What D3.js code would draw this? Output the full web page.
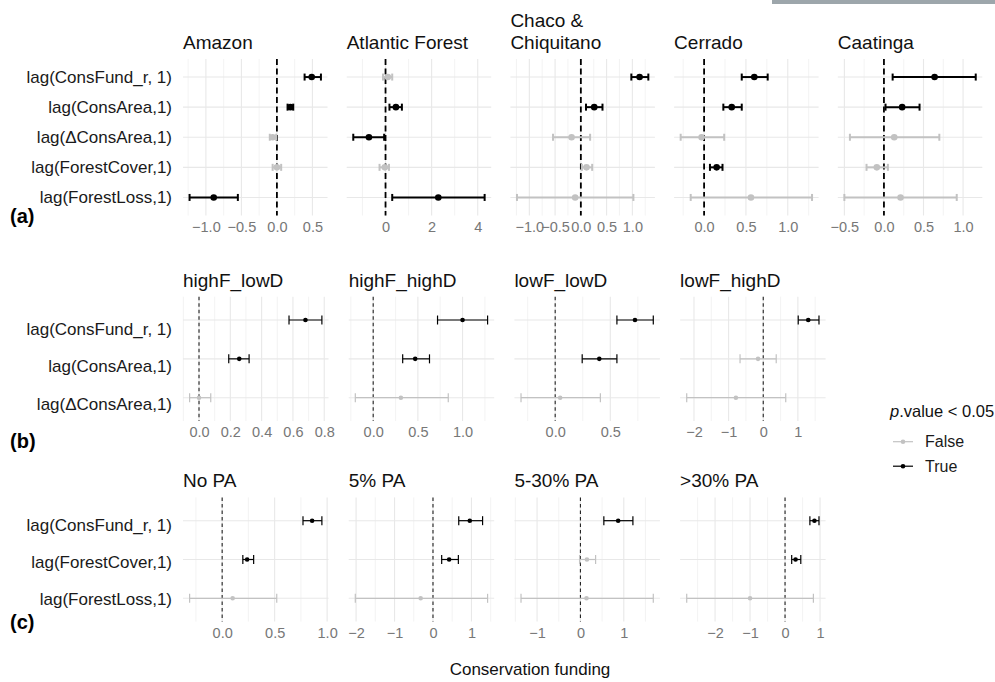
<!DOCTYPE html>
<html lang="en">
<meta charset="utf-8">
<script src="https://d3js.org/d3.v7.min.js"></script>
<style>
  body { margin: 0; background: #fff; }
  text { font-family: "Liberation Sans", Arial, Helvetica, sans-serif; }
</style>
<body>
<script>
// ---------- (a) biomes ----------
var biomes = ["Amazon", "Atlantic Forest", "Chaco &\nChiquitano", "Cerrado", "Caatinga"];
var termsA = ["lag(ConsFund_r, 1)", "lag(ConsArea,1)", "lag(ΔConsArea,1)", "lag(ForestCover,1)", "lag(ForestLoss,1)"];
var estA = [
  [0.49, 0.19, -0.06, 0.00, -0.89],
  [0.10, 0.45, -0.72, -0.03, 2.29],
  [1.14, 0.26, -0.18, 0.11, -0.11],
  [0.60, 0.33, -0.03, 0.15, 0.56],
  [0.64, 0.23, 0.13, -0.09, 0.21]
];
var loA = [
  [0.39, 0.15, -0.10, -0.06, -1.23],
  [-0.11, 0.17, -1.40, -0.26, 0.29],
  [0.98, 0.10, -0.54, 0.02, -1.24],
  [0.45, 0.23, -0.28, 0.07, -0.16],
  [0.11, 0.02, -0.43, -0.22, -0.50]
];
var hiA = [
  [0.62, 0.23, -0.01, 0.06, -0.55],
  [0.29, 0.71, -0.06, 0.15, 4.30],
  [1.31, 0.42, 0.18, 0.22, 1.02],
  [0.76, 0.45, 0.24, 0.22, 1.29],
  [1.16, 0.45, 0.70, 0.05, 0.92]
];
var sigA = [
  [1, 1, 0, 0, 1],
  [0, 1, 1, 0, 1],
  [1, 1, 0, 0, 0],
  [1, 1, 0, 1, 0],
  [1, 1, 0, 0, 0]
];
var ticksA = [[-1, -0.5, 0, 0.5], [0, 2, 4], [-1, -0.5, 0, 0.5, 1], [0, 0.5, 1], [-0.5, 0, 0.5, 1]];

// ---------- (b) forest / deforestation groups ----------
var forestGroups = ["highF_lowD", "highF_highD", "lowF_lowD", "lowF_highD"];
var termsB = ["lag(ConsFund_r, 1)", "lag(ConsArea,1)", "lag(ΔConsArea,1)"];
var estB = [[0.68, 0.257, 0.0], [1.0, 0.47, 0.31], [0.724, 0.40, 0.045], [1.30, -0.15, -0.79]];
var loB = [[0.575, 0.19, -0.06], [0.72, 0.33, -0.20], [0.56, 0.245, -0.31], [1.01, -0.67, -2.21]];
var hiB = [[0.785, 0.32, 0.075], [1.28, 0.63, 0.84], [0.89, 0.56, 0.41], [1.61, 0.375, 0.65]];
var sigB = [[1, 1, 0], [1, 1, 0], [1, 1, 0], [1, 0, 0]];
var ticksB = [[0, 0.2, 0.4, 0.6, 0.8], [0, 0.5, 1], [0, 0.5], [-2, -1, 0, 1]];

// ---------- (c) protected area share ----------
var paGroups = ["No PA", "5% PA", "5-30% PA", ">30% PA"];
var termsC = ["lag(ConsFund_r, 1)", "lag(ForestCover,1)", "lag(ForestLoss,1)"];
var estC = [[0.857, 0.238, 0.10], [0.957, 0.42, -0.32], [0.87, 0.15, 0.14], [0.84, 0.30, -1.0]];
var loC = [[0.77, 0.197, -0.31], [0.67, 0.226, -2.02], [0.54, -0.02, -1.37], [0.71, 0.19, -2.81]];
var hiC = [[0.95, 0.30, 0.52], [1.29, 0.66, 1.42], [1.21, 0.35, 1.68], [0.97, 0.45, 0.81]];
var sigC = [[1, 1, 0], [1, 1, 0], [1, 0, 0], [1, 1, 0]];
var ticksC = [[0, 0.5, 1], [-2, -1, 0, 1], [-1, 0, 1], [-2, -1, 0, 1]];

var legendLabels = ["False", "True"];

var W = 995, H = 682;
var svg = d3.select("body").append("svg").attr("width", W).attr("height", H);
svg.append("rect").attr("width", W).attr("height", H).attr("fill", "#fff");
// grey strip in the top right corner of the picture
svg.append("rect").attr("x", 772).attr("y", 0).attr("width", 223).attr("height", 4).attr("fill", "#9da6ab");

var colTrue = "#000", colFalse = "#c2c2c2";

function decimals(ticks) {
  return d3.max(ticks, function(t) { var s = String(t).split("."); return s[1] ? s[1].length : 0; });
}

function drawRow(o) {
  o.facets.forEach(function(name, f) {
    var left = o.left + f * o.step;
    var rows = o.terms.map(function(t, i) {
      return {term: t, est: o.est[f][i], lo: o.lo[f][i], hi: o.hi[f][i], sig: o.sig[f][i]};
    });
    var lo = d3.min(rows, function(d) { return d.lo; });
    var hi = d3.max(rows, function(d) { return d.hi; });
    var pad = (hi - lo) * 0.05;
    var x = d3.scaleLinear().domain([lo - pad, hi + pad]).range([left, left + o.width]);
    var y = d3.scalePoint().domain(o.terms).range([o.top, o.bottom]).padding(0.6);
    var dom = x.domain();
    var ticks = o.ticks[f];
    var stepT = ticks[1] - ticks[0];
    var minor = [ticks[0] - stepT / 2].concat(ticks.map(function(t) { return t + stepT / 2; }))
      .filter(function(v) { return v >= dom[0] && v <= dom[1]; });

    var g = svg.append("g");
    // grid
    g.selectAll(".minor").data(minor).enter().append("line")
      .attr("x1", x).attr("x2", x).attr("y1", o.top).attr("y2", o.bottom)
      .attr("stroke", "#f0f0f0").attr("stroke-width", 0.8);
    g.selectAll(".major").data(ticks).enter().append("line")
      .attr("x1", x).attr("x2", x).attr("y1", o.top).attr("y2", o.bottom)
      .attr("stroke", "#e8e8e8").attr("stroke-width", 1.1);
    g.selectAll(".hgrid").data(o.terms).enter().append("line")
      .attr("x1", left).attr("x2", left + o.width)
      .attr("y1", y).attr("y2", y)
      .attr("stroke", "#e8e8e8").attr("stroke-width", 1.1);

    // zero reference
    g.append("line")
      .attr("x1", x(0)).attr("x2", x(0)).attr("y1", o.top).attr("y2", o.bottom)
      .attr("stroke", o.dashColor).attr("stroke-width", o.dashW)
      .attr("stroke-dasharray", o.dash);

    // x axis
    var fmt = d3.format("." + decimals(ticks) + "f");
    var ax = g.append("g").attr("transform", "translate(0," + o.bottom + ")")
      .call(d3.axisBottom(x).tickValues(ticks).tickFormat(fmt).tickSize(0).tickPadding(6));
    ax.select(".domain").remove();
    ax.selectAll("text").attr("font-size", "14.5px").attr("fill", "#777")
      .style("font-family", '"Liberation Sans", Arial, sans-serif');

    // estimates, non-significant first
    var sorted = rows.slice().sort(function(a, b) { return a.sig - b.sig; });
    var eb = g.selectAll(".eb").data(sorted).enter().append("g");
    eb.append("line")
      .attr("x1", function(d) { return x(d.lo); }).attr("x2", function(d) { return x(d.hi); })
      .attr("y1", function(d) { return y(d.term); }).attr("y2", function(d) { return y(d.term); })
      .attr("stroke", function(d) { return d.sig ? colTrue : colFalse; }).attr("stroke-width", o.errW);
    ["lo", "hi"].forEach(function(k) {
      eb.append("line")
        .attr("x1", function(d) { return x(d[k]); }).attr("x2", function(d) { return x(d[k]); })
        .attr("y1", function(d) { return y(d.term) - o.capH; }).attr("y2", function(d) { return y(d.term) + o.capH; })
        .attr("stroke", function(d) { return d.sig ? colTrue : colFalse; }).attr("stroke-width", o.errW);
    });
    eb.append("circle")
      .attr("cx", function(d) { return x(d.est); }).attr("cy", function(d) { return y(d.term); })
      .attr("r", o.r)
      .attr("fill", function(d) { return d.sig ? colTrue : colFalse; });

    // facet title
    var lines = name.split("\n");
    var tt = g.append("text").attr("x", left).attr("y", o.top - 10 - (lines.length - 1) * 22)
      .attr("font-size", "19px").attr("fill", "#111");
    lines.forEach(function(l, i) {
      tt.append("tspan").attr("x", left).attr("dy", i ? 22 : 0).text(l);
    });

    // y labels on first facet
    if (f === 0) {
      var yl = d3.scalePoint().domain(o.terms).range(o.labelRange || [o.top, o.bottom]).padding(0.6);
      g.selectAll(".ylab").data(o.terms).enter().append("text")
        .attr("x", 172).attr("y", yl).attr("dy", "0.33em")
        .attr("text-anchor", "end").attr("font-size", "17px").attr("fill", "#1a1a1a")
        .text(function(d) { return d; });
    }
  });
  svg.append("text").attr("x", 10).attr("y", o.tagY).attr("font-size", "20px")
    .attr("font-weight", "bold").attr("fill", "#000").text(o.tag);
}

var thick = {errW: 2, capH: 3.5, r: 3.3, dash: "6,3.5", dashW: 1.8, dashColor: "#000"};
var thin = {errW: 1.2, capH: 4.5, r: 2.3, dash: "3.5,3", dashW: 1.1, dashColor: "#222"};

drawRow(Object.assign({facets: biomes, terms: termsA, est: estA, lo: loA, hi: hiA, sig: sigA, ticks: ticksA,
  top: 59, bottom: 215.5, left: 183, step: 163.7, width: 144.5, tag: "(a)", tagY: 223}, thick));
drawRow(Object.assign({facets: forestGroups, terms: termsB, est: estB, lo: loB, hi: hiB, sig: sigB, ticks: ticksB,
  top: 296.7, bottom: 421, left: 183, step: 165.7, width: 145.5, labelRange: [307.4, 426.3],
  tag: "(b)", tagY: 448}, thin));
drawRow(Object.assign({facets: paGroups, terms: termsC, est: estC, lo: loC, hi: hiC, sig: sigC, ticks: ticksC,
  top: 497.4, bottom: 621.6, left: 183, step: 165.7, width: 145.5, labelRange: [502.7, 621.6],
  tag: "(c)", tagY: 629}, thin));

// x title
svg.append("text").attr("x", 530).attr("y", 675).attr("text-anchor", "middle")
  .attr("font-size", "17px").attr("fill", "#111").text("Conservation funding");

// legend
var lt = svg.append("text").attr("x", 890).attr("y", 417).attr("font-size", "16.5px").attr("fill", "#111");
lt.append("tspan").attr("font-style", "italic").text("p");
lt.append("tspan").text(".value < 0.05");
var lg = svg.selectAll(".leg").data(legendLabels).enter().append("g")
  .attr("transform", function(d, i) { return "translate(0," + (441.7 + i * 24.5) + ")"; });
lg.append("line").attr("x1", 893).attr("x2", 913)
  .attr("stroke", function(d, i) { return i ? colTrue : colFalse; }).attr("stroke-width", 1.2);
lg.append("circle").attr("cx", 903).attr("r", 2.3)
  .attr("fill", function(d, i) { return i ? colTrue : colFalse; });
lg.append("text").attr("x", 925).attr("dy", "0.35em").attr("font-size", "16px").attr("fill", "#1a1a1a")
  .text(function(d) { return d; });
</script>
</body>
</html>
